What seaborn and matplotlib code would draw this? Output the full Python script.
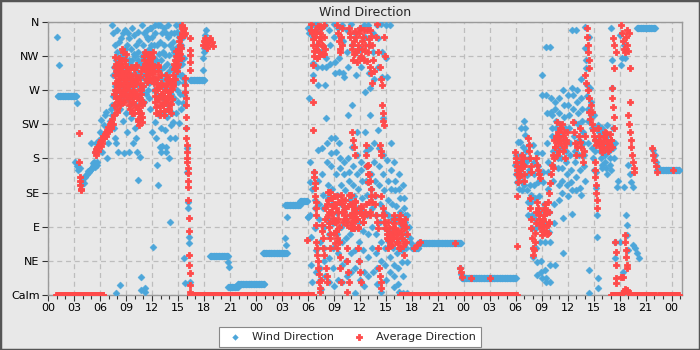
import numpy as np
import pandas as pd
import matplotlib
matplotlib.use("Agg")
import matplotlib.pyplot as plt
import seaborn as sns
from matplotlib.ticker import MultipleLocator, FuncFormatter
from matplotlib.patches import Rectangle

# ---------------------------------------------------------------------------
# Logged data. Time is in hours from the first midnight, direction in degrees
# (0 = calm, 45 = NE ... 360 = N).
# ---------------------------------------------------------------------------
SAMPLE_STEP = 1 / 12  # logger interval: 5 minutes

# Stretches where the reading held a single value: (start h, end h, degrees)
wind_steady = [
    (1.1, 3.3, 263), (16.4, 18.1, 284), (18.7, 20.8, 51), (20.8, 21.9, 11),
    (21.9, 25.0, 15), (24.8, 27.6, 55), (27.4, 29.1, 119), (29.1, 30.0, 124),
    (42.1, 42.8, 62), (42.7, 47.7, 69), (47.8, 54.1, 23), (68.0, 70.1, 352),
    (70.3, 72.9, 165),
]
avg_steady = [
    (0.9, 6.4, 0), (16.4, 30.6, 0), (40.6, 54.1, 0), (65.0, 66.2, 0),
    (67.6, 70.2, 0), (70.5, 72.9, 0),
]

# Variable stretches: (start h, end h, consecutive readings in degrees)
wind_bursts = [
    (1.05, 1.25, [340, 303]),
    (3.3, 3.3, [253]),
    (3.15, 3.7, [175, 170, 165, 168]),
    (3.8, 5.6, [145, 150, 154, 148, 156, 158, 160, 163, 162, 165, 166, 168, 170, 171, 169, 172]),
    (4.85, 5.3, [165, 200, 174, 176]),
    (5.4, 7.4, [189, 200, 176, 195, 205, 215, 231, 189, 211, 224, 237, 241, 180, 200, 218, 230, 245, 250]),
    (7.4, 7.9, [237, 356, 290, 262, 345, 249, 220, 300, 275, 330, 207, 3, 268, 310]),
    (7.9, 8.4, [200, 320, 280, 350, 295, 260, 189, 270, 305, 334, 245, 13, 285, 315]),
    (8.4, 8.9, [339, 300, 275, 255, 320, 287, 230, 345, 262, 312, 187, 270, 295, 325]),
    (8.9, 9.4, [350, 318, 290, 265, 240, 330, 280, 215, 300, 345, 258, 189, 272, 310]),
    (9.4, 9.9, [339, 305, 285, 250, 325, 270, 233, 290, 352, 310, 200, 262, 280, 318]),
    (9.9, 10.4, [343, 300, 270, 220, 315, 282, 250, 330, 207, 295, 189, 262, 310, 152]),
    (10.4, 10.9, [347, 320, 292, 260, 335, 276, 240, 182, 305, 7, 24, 288, 315, 268]),
    (10.9, 11.4, [356, 330, 300, 275, 345, 290, 255, 320, 9, 4, 310, 265, 283, 340]),
    (11.4, 11.9, [349, 315, 290, 270, 338, 300, 260, 325, 280, 352, 305, 245, 295, 330]),
    (11.9, 12.4, [352, 320, 295, 215, 340, 305, 63, 282, 330, 270, 312, 356, 228, 300]),
    (12.4, 12.9, [345, 310, 207, 285, 171, 330, 262, 145, 300, 356, 238, 275, 318, 195]),
    (12.9, 13.4, [356, 334, 297, 189, 310, 220, 283, 196, 345, 260, 320, 240, 300, 273]),
    (13.4, 13.9, [352, 330, 290, 218, 316, 195, 345, 189, 270, 305, 235, 283, 340, 250]),
    (13.9, 14.4, [356, 316, 180, 295, 207, 330, 96, 265, 224, 345, 300, 280, 240, 325]),
    (14.4, 14.9, [334, 300, 228, 320, 260, 345, 280, 207, 310, 240, 290, 356, 270, 316]),
    (14.9, 15.4, [347, 327, 281, 255, 300, 340, 227, 315, 265, 290, 356, 310, 245, 330]),
    (15.4, 15.8, [327, 305, 290, 253, 340, 280, 313, 268]),
    (15.6, 16.4, [286, 49, 264, 16, 250, 220, 194, 162, 123, 115, 76, 69, 17]),
    (17.9, 18.2, [297, 313, 320, 326, 335, 343, 349]),
    (20.8, 20.9, [44, 37]),
    (27.4, 27.6, [75, 66, 103]),
    (30.0, 30.0, [103]),
    (30.0, 30.5, [103, 352, 345, 260, 175, 149, 105, 76, 40, 17, 140]),
    (30.5, 31.0, [356, 340, 306, 290, 162, 141, 125, 115, 88, 60, 30, 348]),
    (31.0, 31.5, [358, 330, 300, 277, 191, 150, 120, 100, 70, 36, 20, 8]),
    (31.5, 32.0, [352, 320, 300, 194, 160, 132, 115, 90, 62, 45, 25, 277]),
    (32.0, 32.5, [356, 313, 300, 233, 200, 175, 145, 128, 100, 80, 49, 17]),
    (32.5, 33.0, [349, 330, 305, 207, 187, 170, 140, 120, 95, 62, 36, 12]),
    (33.0, 33.5, [358, 340, 307, 293, 207, 189, 160, 132, 108, 80, 55, 20]),
    (33.5, 34.0, [352, 313, 294, 200, 180, 167, 145, 120, 90, 70, 40, 17]),
    (34.0, 34.5, [356, 335, 293, 287, 175, 160, 138, 115, 98, 75, 45, 25]),
    (34.5, 35.0, [349, 320, 300, 237, 180, 162, 150, 125, 105, 80, 55, 30]),
    (35.0, 35.5, [358, 330, 251, 195, 170, 145, 130, 110, 88, 60, 35, 3]),
    (35.5, 36.0, [345, 320, 290, 215, 185, 160, 140, 115, 96, 70, 45, 20]),
    (36.0, 36.5, [352, 325, 300, 175, 165, 150, 128, 110, 85, 60, 30, 12]),
    (36.5, 37.0, [356, 340, 268, 215, 190, 170, 150, 132, 105, 80, 50, 25]),
    (37.0, 37.5, [356, 330, 293, 273, 237, 194, 160, 140, 115, 90, 62, 30]),
    (37.5, 38.0, [345, 320, 285, 200, 175, 150, 130, 105, 80, 55, 35, 15]),
    (38.0, 38.5, [356, 339, 300, 218, 194, 170, 145, 120, 96, 70, 45, 4]),
    (38.5, 39.0, [358, 320, 287, 233, 185, 160, 138, 110, 88, 62, 40, 20]),
    (39.0, 39.5, [356, 313, 287, 178, 150, 125, 105, 85, 70, 50, 30]),
    (39.5, 40.0, [356, 200, 165, 140, 120, 100, 80, 62, 40, 25, 10]),
    (40.0, 40.5, [175, 150, 138, 118, 100, 85, 70, 55, 35, 15, 4]),
    (40.5, 41.0, [160, 140, 128, 110, 92, 75, 60, 44, 25, 3]),
    (41.0, 41.5, [145, 128, 115, 105, 96, 80, 62, 44, 3]),
    (41.5, 42.0, [105, 90, 75, 68, 62]),
    (47.55, 47.75, [36, 28, 22]),
    (53.9, 54.5, [171, 185, 160, 149, 202, 175, 140, 165]),
    (54.5, 55.0, [202, 220, 185, 158, 149, 138, 170, 195, 180, 145]),
    (55.0, 55.5, [229, 220, 211, 190, 175, 158, 138, 123, 105, 165]),
    (55.5, 56.0, [198, 180, 162, 145, 132, 123, 105, 88, 62, 50]),
    (56.0, 56.5, [198, 175, 160, 145, 128, 100, 88, 62, 44, 26]),
    (56.5, 57.0, [187, 170, 149, 130, 110, 92, 70, 45, 30, 22]),
    (57.0, 57.5, [264, 290, 187, 162, 149, 120, 95, 83, 70, 33, 22, 17]),
    (57.5, 58.0, [327, 264, 240, 200, 175, 162, 140, 110, 83, 70, 40, 17]),
    (58.0, 58.5, [327, 260, 241, 237, 220, 210, 190, 170, 150, 120, 95, 40]),
    (58.5, 59.0, [255, 245, 230, 220, 205, 190, 180, 167, 145, 125]),
    (59.0, 59.5, [260, 240, 225, 210, 195, 180, 167, 150, 134, 101, 55]),
    (59.5, 60.0, [270, 250, 235, 220, 205, 190, 175, 160, 145, 130]),
    (60.0, 60.5, [264, 250, 237, 220, 200, 185, 165, 149, 138, 107]),
    (60.5, 61.0, [349, 273, 264, 245, 228, 210, 190, 175, 155, 138]),
    (61.0, 61.5, [349, 270, 255, 240, 225, 205, 185, 165, 141, 132]),
    (61.5, 62.0, [285, 260, 245, 230, 215, 200, 185, 170, 150]),
    (62.0, 62.5, [353, 326, 310, 299, 277, 262, 245, 230, 200, 33, 3]),
    (62.5, 63.0, [340, 273, 255, 237, 220, 194, 180, 165]),
    (63.0, 63.5, [237, 220, 205, 190, 162, 141, 105, 76, 22, 9]),
    (63.5, 64.0, [224, 215, 205, 198, 190, 180, 172, 167]),
    (64.0, 64.5, [220, 212, 200, 194, 185, 176, 167, 160]),
    (64.5, 65.0, [224, 210, 200, 190, 180, 172, 165]),
    (65.0, 65.5, [352, 310, 273, 220, 194, 180, 70, 49]),
    (65.5, 66.0, [200, 142, 150, 70]),
    (66.0, 66.5, [343, 303, 313, 30, 142]),
    (66.5, 67.0, [330, 313, 105, 92, 79, 60]),
    (67.0, 67.5, [171, 160, 149, 142]),
    (67.5, 68.2, [66, 62, 55, 49]),
    (69.9, 70.3, [191, 185, 175, 170]),
]

avg_bursts = [
    (3.55, 3.6, [213, 175]),
    (3.65, 3.8, [155, 150, 145, 140, 138]),
    (5.4, 7.6, [189, 185, 192, 195, 190, 198, 202, 196, 205, 200, 210, 207,
                212, 215, 210, 218, 222, 216, 225, 220, 228, 232, 225, 237]),
    (7.6, 8.5, [250, 265, 280, 300, 314, 295, 270, 255, 241, 260, 285, 305,
                290, 275, 250, 262, 280, 300, 310, 288]),
    (7.7, 8.4, [270, 290, 305, 260, 245, 280, 298, 312, 275, 255, 268, 292]),
    (8.5, 9.2, [325, 310, 295, 280, 265, 254, 270, 290, 305, 318, 300, 285, 262, 275, 298]),
    (8.6, 9.1, [300, 320, 290, 272, 258, 285, 310, 295, 265, 280]),
    (9.2, 10.2, [290, 275, 260, 245, 265, 280, 300, 285, 270, 255, 240, 262, 290, 303, 278]),
    (9.3, 10.1, [250, 270, 292, 285, 262, 240, 255, 275, 298, 268, 248, 282]),
    (10.2, 11.0, [300, 285, 265, 245, 230, 224, 240, 260, 280, 295, 270, 250, 235, 255, 275]),
    (10.3, 10.9, [260, 245, 232, 250, 272, 288, 265, 240, 228, 255]),
    (11.0, 12.1, [300, 315, 320, 305, 290, 281, 295, 310, 318, 300, 288, 295, 312, 305, 292]),
    (11.1, 12.0, [310, 298, 285, 302, 316, 308, 292, 283, 300, 314]),
    (12.1, 13.1, [320, 300, 285, 270, 255, 240, 260, 280, 295, 303, 275, 250, 237, 265, 290]),
    (12.2, 13.0, [295, 280, 262, 248, 270, 288, 300, 258, 242, 275]),
    (13.1, 14.4, [280, 265, 250, 237, 255, 270, 290, 275, 260, 245, 262, 285, 270, 252, 240, 258, 278]),
    (13.2, 14.3, [265, 250, 242, 260, 278, 285, 268, 255, 245, 262, 280, 272]),
    (14.4, 15.5, [275, 290, 305, 285, 300, 315, 295, 310, 325, 305, 320, 340, 330, 313, 345, 352]),
    (14.5, 15.4, [285, 298, 310, 322, 300, 315, 335, 318, 340, 326]),
    (15.5, 15.8, [356, 350, 343, 352, 345]),
    (15.8, 16.4, [286, 277, 268, 260, 251, 235, 220, 207, 198, 189, 180, 175, 168,
                  161, 150, 142, 125, 102, 85, 53, 40, 29, 13, 4]),
    (16.4, 16.45, [339, 323, 316, 307, 297]),
    (17.9, 19.0, [330, 335, 339, 332, 326, 330, 336, 339, 333, 328]),
    (29.9, 29.9, [73]),
    (30.4, 32.0, [358, 345, 330, 315, 350, 340, 325, 313, 355, 335, 320, 345, 352, 330, 318, 340, 356, 325]),
    (30.4, 31.9, [350, 338, 322, 345, 330, 315, 355, 340, 328, 318]),
    (30.6, 30.65, [303, 283, 254, 218]),
    (33.4, 34.0, [356, 345, 335, 325, 320, 340, 352, 330]),
    (34.8, 37.4, [352, 340, 325, 310, 335, 348, 320, 307, 330, 345, 352, 315, 325,
                  340, 310, 330, 350, 320, 338, 300, 293, 280]),
    (34.9, 37.3, [345, 330, 318, 340, 325, 312, 335, 350, 322, 308, 330, 342]),
    (37.2, 38.9, [350, 330, 310, 295, 340, 358, 320, 300, 285, 277, 340, 315]),
    (35.1, 35.4, [215, 205, 195, 185]),
    (37.0, 37.4, [171, 160, 150, 140, 130, 123]),
    (38.6, 38.8, [251, 240, 230, 224]),
    (38.3, 38.5, [198, 190, 185]),
    (30.7, 31.0, [162, 155, 148, 141, 130, 123, 115, 105, 92]),
    (31.0, 31.5, [70, 62, 53, 45, 36, 28, 17, 9, 4, 20]),
    (31.6, 32.0, [92, 85, 75, 62, 53, 115, 100]),
    (32.1, 32.6, [36, 25, 17, 136, 125, 110, 95, 80, 62]),
    (32.6, 33.2, [136, 128, 118, 108, 101, 120, 130, 96, 85]),
    (33.2, 33.8, [96, 85, 75, 62, 123, 110, 90, 70, 50, 35, 17]),
    (32.2, 33.5, [120, 105, 90, 75, 110, 128, 98, 82, 68, 115, 130, 100]),
    (33.8, 34.5, [132, 120, 110, 96, 105, 125, 115, 100, 4]),
    (34.5, 35.0, [62, 45, 30, 17, 132, 120, 105, 88]),
    (35.0, 35.5, [132, 118, 105, 95, 88, 100, 115]),
    (35.5, 36.1, [123, 110, 100, 88, 62, 45, 30, 17]),
    (36.1, 36.7, [115, 105, 96, 110, 120]),
    (34.0, 36.5, [125, 110, 100, 92, 118, 105, 96, 88, 112, 124, 100, 90, 108, 118, 96, 104]),
    (36.7, 37.2, [198, 185, 170, 160, 149, 123, 110, 105]),
    (37.7, 38.5, [132, 120, 105, 96, 88, 62, 36, 25, 17, 9]),
    (38.5, 39.3, [130, 115, 105, 96, 88, 75, 62]),
    (39.3, 39.9, [96, 88, 80, 72, 66, 75, 85]),
    (39.9, 40.5, [105, 95, 88, 79, 70, 85, 100]),
    (40.5, 41.2, [62, 105, 95, 85, 75, 65, 53, 70]),
    (41.2, 41.5, [100, 90, 80]),
    (38.6, 41.3, [105, 96, 88, 80, 72, 66, 78, 90, 100, 85, 75, 68, 62, 80, 95, 88, 70]),
    (42.3, 42.9, [62, 66, 70]),
    (47.0, 47.0, [69]),
    (47.6, 47.8, [36, 30, 24]),
    (48.8, 51.0, [23, 22]),
    (54.1, 54.1, [130, 65]),
    (53.9, 55.0, [189, 180, 170, 160, 149, 155, 165, 175, 185, 172, 160, 150]),
    (54.0, 55.0, [175, 165, 158, 168, 180, 170]),
    (55.4, 55.8, [207, 198, 190, 180, 170, 162]),
    (56.4, 56.8, [180, 172, 165, 160, 154]),
    (55.6, 56.4, [128, 115, 100, 88, 75, 62, 53, 60, 70, 82, 95, 110]),
    (56.5, 57.9, [123, 115, 105, 95, 88, 79, 85, 100, 112, 120, 108, 92, 82, 96, 110]),
    (56.6, 57.8, [110, 100, 92, 85, 98, 105, 115, 90, 80, 95]),
    (57.7, 58.3, [123, 135, 148, 160, 172, 185]),
    (58.3, 59.9, [168, 180, 195, 210, 228, 215, 200, 190, 205, 220, 225, 210, 195, 180, 200, 215]),
    (58.4, 59.8, [205, 195, 185, 210, 220, 200, 190, 215, 205]),
    (60.6, 61.4, [228, 215, 200, 185, 195, 210, 220]),
    (61.4, 62.0, [202, 195, 185, 175, 190, 210]),
    (62.2, 62.5, [352, 340, 330, 320, 310, 299]),
    (62.0, 62.8, [290, 280, 270, 260, 250, 241]),
    (62.5, 63.3, [241, 232, 225, 218, 210, 204, 198]),
    (63.1, 63.4, [175, 165, 155, 145, 135, 125, 115]),
    (63.5, 65.1, [220, 210, 200, 195, 189, 200, 210, 215, 205, 195, 190, 200, 212, 205, 195]),
    (63.6, 65.0, [205, 198, 192, 208, 214, 200, 196, 204]),
    (65.1, 65.4, [273, 260, 248, 235, 220]),
    (65.2, 65.6, [339, 330, 320]),
    (65.4, 65.4, [299]),
    (66.2, 67.1, [356, 345, 335, 325, 320, 340, 350, 330, 322, 345]),
    (67.2, 67.2, [299, 255]),
    (67.0, 67.7, [237, 225, 215, 205, 195, 185, 175, 168, 162]),
    (65.5, 65.6, [70, 57, 40, 22, 16]),
    (66.6, 66.9, [79, 70, 60, 50, 40, 36]),
    (66.2, 66.4, [24, 24]),
    (66.3, 67.2, [3, 5, 8, 6, 3, 2]),
    (69.7, 70.3, [194, 185, 178, 170, 162]),
    (72.2, 72.2, [165]),
]

direction_labels = ["Calm", "NE", "E", "SE", "S", "SW", "W", "NW", "N"]
direction_ticks = [0, 45, 90, 135, 180, 225, 270, 315, 360]

BLUE = "#4ca6da"
RED = "#ff4a4a"
BG = "#e8e8e8"


def expand(steady, bursts):
    hours, degs = [], []
    for start, end, value in steady:
        ts = np.arange(start, end + 1e-9, SAMPLE_STEP)
        hours.extend(ts)
        degs.extend([value] * len(ts))
    for start, end, values in bursts:
        ts = np.linspace(start, end, len(values))
        hours.extend(ts)
        degs.extend(values)
    return pd.DataFrame({"hour": hours, "direction": degs})


wind = expand(wind_steady, wind_bursts)
avg = expand(avg_steady, avg_bursts)

sns.set_style("white")
plt.rcParams["font.family"] = ["DejaVu Sans"]

fig = plt.figure(figsize=(7, 3.5), dpi=100, facecolor=BG)
ax = fig.add_axes([48 / 700, 1 - 295 / 350, 634 / 700, 273 / 350])
ax.set_facecolor(BG)

sns.scatterplot(data=wind, x="hour", y="direction", ax=ax, marker="D", s=13,
                color=BLUE, edgecolor=BLUE, linewidth=0.3,
                label="Wind Direction", zorder=3)
sns.scatterplot(data=avg, x="hour", y="direction", ax=ax, marker="P", s=24,
                color=RED, edgecolor=RED, linewidth=0.6,
                label="Average Direction", zorder=4)

ax.set_xlim(0, 73.2)
ax.set_ylim(0, 360)
ax.set_yticks(direction_ticks)
ax.set_yticklabels(direction_labels)
ax.xaxis.set_major_locator(MultipleLocator(3))
ax.xaxis.set_minor_locator(MultipleLocator(1))
ax.xaxis.set_major_formatter(FuncFormatter(lambda v, _: f"{int(round(v)) % 24:02d}"))
ax.tick_params(axis="both", which="major", labelsize=8, length=4, width=0.8,
               color="#333333", labelcolor="black", direction="out", pad=2,
               bottom=True, left=True)
ax.tick_params(axis="x", which="minor", length=3, width=0.8, color="#333333",
               bottom=True)
ax.set_xlabel("")
ax.set_ylabel("")
ax.grid(True, which="major", color="#bdbdbd", linestyle=(0, (4, 3)), linewidth=0.9)
ax.set_axisbelow(True)
for sp in ax.spines.values():
    sp.set_visible(True)
    sp.set_color("#9a9a9a")
    sp.set_linewidth(1.0)

ax.set_title("Wind Direction", fontsize=9, pad=4)

handles, labels = ax.get_legend_handles_labels()
ax.get_legend().remove()
leg = fig.legend(handles, labels, loc="lower center", bbox_to_anchor=(0.5, 0.0),
                 ncol=2, fontsize=8, frameon=True, fancybox=False,
                 edgecolor="#888888", facecolor="white", framealpha=1,
                 markerscale=0.8, handletextpad=0.5, columnspacing=1.3,
                 borderpad=0.45, borderaxespad=0.3)
leg.get_frame().set_linewidth(0.8)

fig.patches.append(Rectangle((0, 0), 1, 1, transform=fig.transFigure,
                             fill=False, edgecolor="#555555", linewidth=2.5))

fig.savefig("out.png", dpi=100, facecolor=BG)
